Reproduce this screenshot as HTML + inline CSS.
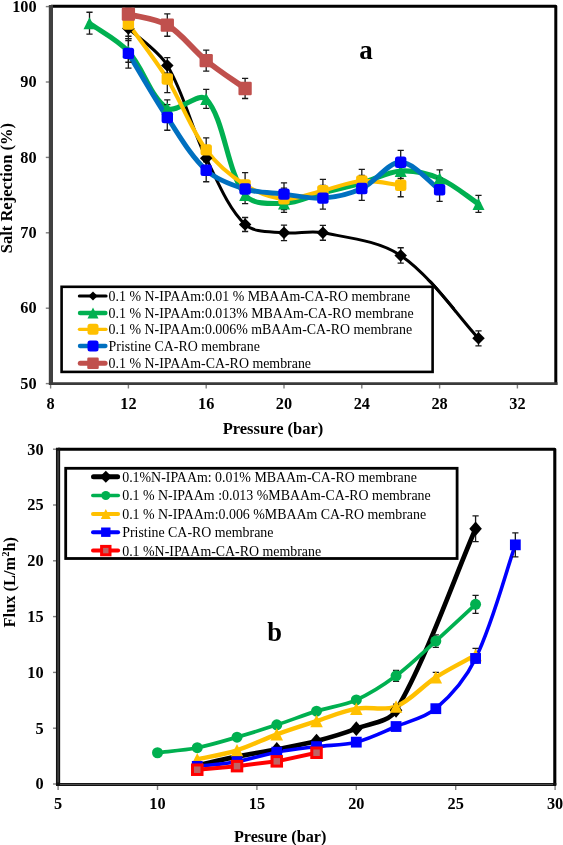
<!DOCTYPE html>
<html><head><meta charset="utf-8"><title>Salt rejection and flux</title>
<style>
html,body{margin:0;padding:0;background:#fff;}
body{width:563px;height:845px;overflow:hidden;font-family:"Liberation Serif",serif;}
svg{display:block;will-change:transform;}
</style></head><body>
<svg width="563" height="845" viewBox="0 0 563 845">
<rect width="563" height="845" fill="#ffffff"/>
<g fill="none" stroke-linecap="butt">
<path d="M45.8 383.6 H49.5" stroke="#7f7f7f" stroke-width="1.4"/>
<path d="M45.8 308.2 H49.5" stroke="#7f7f7f" stroke-width="1.4"/>
<path d="M45.8 232.8 H49.5" stroke="#7f7f7f" stroke-width="1.4"/>
<path d="M45.8 157.4 H49.5" stroke="#7f7f7f" stroke-width="1.4"/>
<path d="M45.8 82 H49.5" stroke="#7f7f7f" stroke-width="1.4"/>
<path d="M45.8 6.6 H49.5" stroke="#7f7f7f" stroke-width="1.4"/>
<path d="M50.6 385 V388.5" stroke="#7f7f7f" stroke-width="1.4"/>
<path d="M128.4 385 V388.5" stroke="#7f7f7f" stroke-width="1.4"/>
<path d="M206.2 385 V388.5" stroke="#7f7f7f" stroke-width="1.4"/>
<path d="M284 385 V388.5" stroke="#7f7f7f" stroke-width="1.4"/>
<path d="M361.8 385 V388.5" stroke="#7f7f7f" stroke-width="1.4"/>
<path d="M439.6 385 V388.5" stroke="#7f7f7f" stroke-width="1.4"/>
<path d="M517.4 385 V388.5" stroke="#7f7f7f" stroke-width="1.4"/>
<path d="M51 6.3 H555.8 V384.8" stroke="#000" stroke-width="3" stroke-linejoin="round"/>
<path d="M50.9 5.1 V385.1" stroke="#404040" stroke-width="4.2"/>
<path d="M49 383.6 H557.5" stroke="#3a3a3a" stroke-width="2.8"/>
</g>
<g font-family="Liberation Serif" font-weight="bold" font-size="16.3" fill="#000">
<text x="36.6" y="388.8" text-anchor="end">50</text>
<text x="36.6" y="313.4" text-anchor="end">60</text>
<text x="36.6" y="238" text-anchor="end">70</text>
<text x="36.6" y="162.6" text-anchor="end">80</text>
<text x="36.6" y="87.2" text-anchor="end">90</text>
<text x="36.6" y="11.8" text-anchor="end">100</text>
<text x="50.6" y="408.8" text-anchor="middle">8</text>
<text x="128.4" y="408.8" text-anchor="middle">12</text>
<text x="206.2" y="408.8" text-anchor="middle">16</text>
<text x="284" y="408.8" text-anchor="middle">20</text>
<text x="361.8" y="408.8" text-anchor="middle">24</text>
<text x="439.6" y="408.8" text-anchor="middle">28</text>
<text x="517.4" y="408.8" text-anchor="middle">32</text>
</g>
<text x="222.7" y="434.1" font-family="Liberation Serif" font-weight="bold" font-size="16.5">Pressure (bar)</text>
<text transform="translate(11.6 253.2) rotate(-90)" font-family="Liberation Serif" font-weight="bold" font-size="16.5">Salt Rejection (%)</text>
<text x="359.3" y="59.3" font-family="Liberation Serif" font-weight="bold" font-size="27">a</text>
<path d="M128.4 28.47 C138.12 37.7 158.28 50.37 167.3 65.41 C184.21 93.6 191.51 128.1 206.2 158.15 C217.44 181.14 228.01 208.11 245.1 224.51 C253.94 232.99 270.89 231.4 284 232.8 C296.82 234.17 310.28 230.35 322.9 232.8 C349.18 237.89 379.12 240.78 400.7 255.42 C430.99 275.97 459.05 317.62 478.5 338.36" fill="none" stroke="#000000" stroke-width="3" stroke-linejoin="round" stroke-linecap="round"/>
<path d="M89.5 23.19 C99.22 30.26 117.74 39.79 128.4 51.46 C143.68 68.19 150.89 98.39 167.3 108.39 C176.83 114.2 198.98 90.84 206.2 98.89 C224.91 119.75 226.35 169.92 245.1 195.1 C252.29 204.75 271.12 203.77 284 203.39 C297.05 203.01 309.9 196.24 322.9 192.84 C335.84 189.45 348.93 186.65 361.8 183.04 C374.86 179.36 387.56 171.74 400.7 170.97 C413.49 170.23 427.66 173.46 439.6 178.51 C453.6 184.44 468.77 197.57 478.5 203.92" fill="none" stroke="#00B050" stroke-width="5.1" stroke-linejoin="round" stroke-linecap="round"/>
<path d="M128.4 23.94 C138.12 37.7 155.51 59.9 167.3 78.98 C181.44 101.87 190.46 128.43 206.2 149.86 C216.39 163.74 230.6 175.79 245.1 184.92 C256.54 192.13 270.78 197.9 284 198.87 C296.72 199.81 309.99 193.62 322.9 190.65 C335.92 187.66 348.68 181.9 361.8 181 C374.61 180.12 390.98 184.22 400.7 185.3" fill="none" stroke="#FFC000" stroke-width="4.1" stroke-linejoin="round" stroke-linecap="round"/>
<path d="M128.4 53.35 C138.12 69.37 153.47 96.66 167.3 117.44 C179.4 135.61 190.57 155.83 206.2 170.22 C216.5 179.7 231.5 184.89 245.1 189.07 C257.44 192.86 271.01 192.61 284 194.12 C296.95 195.63 310.09 199.05 322.9 198.12 C336.03 197.16 349.85 193.97 361.8 188.46 C375.78 182.03 387.84 162.08 400.7 162.3 C413.77 162.53 429.88 182.94 439.6 189.82" fill="none" stroke="#0070C0" stroke-width="5" stroke-linejoin="round" stroke-linecap="round"/>
<path d="M128.4 14.14 C138.12 16.87 156.04 18.35 167.3 25.07 C181.98 33.83 192.61 49.51 206.2 60.59 C218.55 70.65 235.38 81.51 245.1 88.48" fill="none" stroke="#C0504D" stroke-width="5.7" stroke-linejoin="round" stroke-linecap="round"/>
<path d="M128.4 20.7 V36.23 M125.3 20.7 H131.5 M125.3 36.23 H131.5" stroke="#1a1a1a" stroke-width="1.3" fill="none"/>
<path d="M167.3 57.72 V73.1 M164.2 57.72 H170.4 M164.2 73.1 H170.4" stroke="#1a1a1a" stroke-width="1.3" fill="none"/>
<path d="M206.2 150.61 V165.69 M203.1 150.61 H209.3 M203.1 165.69 H209.3" stroke="#1a1a1a" stroke-width="1.3" fill="none"/>
<path d="M245.1 217.49 V231.52 M242 217.49 H248.2 M242 231.52 H248.2" stroke="#1a1a1a" stroke-width="1.3" fill="none"/>
<path d="M284 225.03 V240.57 M280.9 225.03 H287.1 M280.9 240.57 H287.1" stroke="#1a1a1a" stroke-width="1.3" fill="none"/>
<path d="M322.9 225.34 V240.26 M319.8 225.34 H326 M319.8 240.26 H326" stroke="#1a1a1a" stroke-width="1.3" fill="none"/>
<path d="M400.7 247.73 V263.11 M397.6 247.73 H403.8 M397.6 263.11 H403.8" stroke="#1a1a1a" stroke-width="1.3" fill="none"/>
<path d="M478.5 330.82 V345.9 M475.4 330.82 H481.6 M475.4 345.9 H481.6" stroke="#1a1a1a" stroke-width="1.3" fill="none"/>
<path d="M89.5 12.25 V34.12 M86.4 12.25 H92.6 M86.4 34.12 H92.6" stroke="#1a1a1a" stroke-width="1.3" fill="none"/>
<path d="M128.4 40.68 V62.25 M125.3 40.68 H131.5 M125.3 62.25 H131.5" stroke="#1a1a1a" stroke-width="1.3" fill="none"/>
<path d="M167.3 99.87 V116.91 M164.2 99.87 H170.4 M164.2 116.91 H170.4" stroke="#1a1a1a" stroke-width="1.3" fill="none"/>
<path d="M206.2 89.46 V108.31 M203.1 89.46 H209.3 M203.1 108.31 H209.3" stroke="#1a1a1a" stroke-width="1.3" fill="none"/>
<path d="M245.1 186.5 V203.7 M242 186.5 H248.2 M242 203.7 H248.2" stroke="#1a1a1a" stroke-width="1.3" fill="none"/>
<path d="M284 194.35 V212.44 M280.9 194.35 H287.1 M280.9 212.44 H287.1" stroke="#1a1a1a" stroke-width="1.3" fill="none"/>
<path d="M322.9 185.3 V200.38 M319.8 185.3 H326 M319.8 200.38 H326" stroke="#1a1a1a" stroke-width="1.3" fill="none"/>
<path d="M361.8 175.5 V190.58 M358.7 175.5 H364.9 M358.7 190.58 H364.9" stroke="#1a1a1a" stroke-width="1.3" fill="none"/>
<path d="M400.7 163.43 V178.51 M397.6 163.43 H403.8 M397.6 178.51 H403.8" stroke="#1a1a1a" stroke-width="1.3" fill="none"/>
<path d="M439.6 169.84 V187.18 M436.5 169.84 H442.7 M436.5 187.18 H442.7" stroke="#1a1a1a" stroke-width="1.3" fill="none"/>
<path d="M478.5 195.4 V212.44 M475.4 195.4 H481.6 M475.4 212.44 H481.6" stroke="#1a1a1a" stroke-width="1.3" fill="none"/>
<path d="M128.4 9.16 V38.72 M125.3 9.16 H131.5 M125.3 38.72 H131.5" stroke="#1a1a1a" stroke-width="1.3" fill="none"/>
<path d="M167.3 65.41 V92.56 M164.2 65.41 H170.4 M164.2 92.56 H170.4" stroke="#1a1a1a" stroke-width="1.3" fill="none"/>
<path d="M206.2 137.95 V161.77 M203.1 137.95 H209.3 M203.1 161.77 H209.3" stroke="#1a1a1a" stroke-width="1.3" fill="none"/>
<path d="M245.1 172.63 V197.21 M242 172.63 H248.2 M242 197.21 H248.2" stroke="#1a1a1a" stroke-width="1.3" fill="none"/>
<path d="M284 188.09 V209.65 M280.9 188.09 H287.1 M280.9 209.65 H287.1" stroke="#1a1a1a" stroke-width="1.3" fill="none"/>
<path d="M322.9 179.42 V201.89 M319.8 179.42 H326 M319.8 201.89 H326" stroke="#1a1a1a" stroke-width="1.3" fill="none"/>
<path d="M361.8 169.31 V192.69 M358.7 169.31 H364.9 M358.7 192.69 H364.9" stroke="#1a1a1a" stroke-width="1.3" fill="none"/>
<path d="M400.7 173.84 V196.76 M397.6 173.84 H403.8 M397.6 196.76 H403.8" stroke="#1a1a1a" stroke-width="1.3" fill="none"/>
<path d="M128.4 38.65 V68.05 M125.3 38.65 H131.5 M125.3 68.05 H131.5" stroke="#1a1a1a" stroke-width="1.3" fill="none"/>
<path d="M167.3 104.62 V130.26 M164.2 104.62 H170.4 M164.2 130.26 H170.4" stroke="#1a1a1a" stroke-width="1.3" fill="none"/>
<path d="M206.2 158.68 V181.75 M203.1 158.68 H209.3 M203.1 181.75 H209.3" stroke="#1a1a1a" stroke-width="1.3" fill="none"/>
<path d="M245.1 181.53 V196.61 M242 181.53 H248.2 M242 196.61 H248.2" stroke="#1a1a1a" stroke-width="1.3" fill="none"/>
<path d="M284 182.81 V205.43 M280.9 182.81 H287.1 M280.9 205.43 H287.1" stroke="#1a1a1a" stroke-width="1.3" fill="none"/>
<path d="M322.9 187.11 V209.12 M319.8 187.11 H326 M319.8 209.12 H326" stroke="#1a1a1a" stroke-width="1.3" fill="none"/>
<path d="M361.8 176.55 V200.38 M358.7 176.55 H364.9 M358.7 200.38 H364.9" stroke="#1a1a1a" stroke-width="1.3" fill="none"/>
<path d="M400.7 150.46 V174.14 M397.6 150.46 H403.8 M397.6 174.14 H403.8" stroke="#1a1a1a" stroke-width="1.3" fill="none"/>
<path d="M439.6 178.21 V201.43 M436.5 178.21 H442.7 M436.5 201.43 H442.7" stroke="#1a1a1a" stroke-width="1.3" fill="none"/>
<path d="M128.4 7.73 V20.55 M125.3 7.73 H131.5 M125.3 20.55 H131.5" stroke="#1a1a1a" stroke-width="1.3" fill="none"/>
<path d="M167.3 13.91 V36.23 M164.2 13.91 H170.4 M164.2 36.23 H170.4" stroke="#1a1a1a" stroke-width="1.3" fill="none"/>
<path d="M206.2 50.11 V71.07 M203.1 50.11 H209.3 M203.1 71.07 H209.3" stroke="#1a1a1a" stroke-width="1.3" fill="none"/>
<path d="M245.1 78.46 V98.51 M242 78.46 H248.2 M242 98.51 H248.2" stroke="#1a1a1a" stroke-width="1.3" fill="none"/>
<path d="M128.4 22.22 L134.65 28.47 L128.4 34.72 L122.15 28.47 Z" fill="#000000" stroke-linejoin="round"/>
<path d="M167.3 59.16 L173.55 65.41 L167.3 71.66 L161.05 65.41 Z" fill="#000000" stroke-linejoin="round"/>
<path d="M206.2 151.9 L212.45 158.15 L206.2 164.4 L199.95 158.15 Z" fill="#000000" stroke-linejoin="round"/>
<path d="M245.1 218.26 L251.35 224.51 L245.1 230.76 L238.85 224.51 Z" fill="#000000" stroke-linejoin="round"/>
<path d="M284 226.55 L290.25 232.8 L284 239.05 L277.75 232.8 Z" fill="#000000" stroke-linejoin="round"/>
<path d="M322.9 226.55 L329.15 232.8 L322.9 239.05 L316.65 232.8 Z" fill="#000000" stroke-linejoin="round"/>
<path d="M400.7 249.17 L406.95 255.42 L400.7 261.67 L394.45 255.42 Z" fill="#000000" stroke-linejoin="round"/>
<path d="M478.5 332.11 L484.75 338.36 L478.5 344.61 L472.25 338.36 Z" fill="#000000" stroke-linejoin="round"/>
<path d="M89.5 17.19 L95.5 29.19 L83.5 29.19 Z" fill="#00B050" stroke-linejoin="round"/>
<path d="M128.4 45.46 L134.4 57.46 L122.4 57.46 Z" fill="#00B050" stroke-linejoin="round"/>
<path d="M167.3 102.39 L173.3 114.39 L161.3 114.39 Z" fill="#00B050" stroke-linejoin="round"/>
<path d="M206.2 92.89 L212.2 104.89 L200.2 104.89 Z" fill="#00B050" stroke-linejoin="round"/>
<path d="M245.1 189.1 L251.1 201.1 L239.1 201.1 Z" fill="#00B050" stroke-linejoin="round"/>
<path d="M284 197.39 L290 209.39 L278 209.39 Z" fill="#00B050" stroke-linejoin="round"/>
<path d="M322.9 186.84 L328.9 198.84 L316.9 198.84 Z" fill="#00B050" stroke-linejoin="round"/>
<path d="M361.8 177.04 L367.8 189.04 L355.8 189.04 Z" fill="#00B050" stroke-linejoin="round"/>
<path d="M400.7 164.97 L406.7 176.97 L394.7 176.97 Z" fill="#00B050" stroke-linejoin="round"/>
<path d="M439.6 172.51 L445.6 184.51 L433.6 184.51 Z" fill="#00B050" stroke-linejoin="round"/>
<path d="M478.5 197.92 L484.5 209.92 L472.5 209.92 Z" fill="#00B050" stroke-linejoin="round"/>
<rect x="122.7" y="18.24" width="11.4" height="11.4" rx="2.5" fill="#FFC000"/>
<rect x="161.6" y="73.28" width="11.4" height="11.4" rx="2.5" fill="#FFC000"/>
<rect x="200.5" y="144.16" width="11.4" height="11.4" rx="2.5" fill="#FFC000"/>
<rect x="239.4" y="179.22" width="11.4" height="11.4" rx="2.5" fill="#FFC000"/>
<rect x="278.3" y="193.17" width="11.4" height="11.4" rx="2.5" fill="#FFC000"/>
<rect x="317.2" y="184.95" width="11.4" height="11.4" rx="2.5" fill="#FFC000"/>
<rect x="356.1" y="175.3" width="11.4" height="11.4" rx="2.5" fill="#FFC000"/>
<rect x="395" y="179.6" width="11.4" height="11.4" rx="2.5" fill="#FFC000"/>
<rect x="122.7" y="47.65" width="11.4" height="11.4" rx="2.5" fill="#0000FF"/>
<rect x="161.6" y="111.74" width="11.4" height="11.4" rx="2.5" fill="#0000FF"/>
<rect x="200.5" y="164.52" width="11.4" height="11.4" rx="2.5" fill="#0000FF"/>
<rect x="239.4" y="183.37" width="11.4" height="11.4" rx="2.5" fill="#0000FF"/>
<rect x="278.3" y="188.42" width="11.4" height="11.4" rx="2.5" fill="#0000FF"/>
<rect x="317.2" y="192.42" width="11.4" height="11.4" rx="2.5" fill="#0000FF"/>
<rect x="356.1" y="182.76" width="11.4" height="11.4" rx="2.5" fill="#0000FF"/>
<rect x="395" y="156.6" width="11.4" height="11.4" rx="2.5" fill="#0000FF"/>
<rect x="433.9" y="184.12" width="11.4" height="11.4" rx="2.5" fill="#0000FF"/>
<rect x="121.75" y="7.49" width="13.3" height="13.3" rx="1.2" fill="#C0504D"/>
<rect x="160.65" y="18.42" width="13.3" height="13.3" rx="1.2" fill="#C0504D"/>
<rect x="199.55" y="53.94" width="13.3" height="13.3" rx="1.2" fill="#C0504D"/>
<rect x="238.45" y="81.83" width="13.3" height="13.3" rx="1.2" fill="#C0504D"/>
<rect x="61.6" y="286.8" width="371" height="85.1" fill="#fff" stroke="#000" stroke-width="2.6"/>
<path d="M79.3 296 H106.1" stroke="#000000" stroke-width="3" stroke-linecap="round"/>
<path d="M93 291.4 L97.6 296 L93 300.6 L88.4 296 Z" fill="#000000" stroke-linejoin="round"/>
<text x="108.6" y="300.9" font-family="Liberation Serif" font-size="13.9">0.1 % N-IPAAm:0.01 % MBAAm-CA-RO membrane</text>
<path d="M80.05 312.9 H105.35" stroke="#00B050" stroke-width="4.5" stroke-linecap="round"/>
<path d="M93 307.4 L98.5 318.4 L87.5 318.4 Z" fill="#00B050" stroke-linejoin="round"/>
<text x="108.6" y="317.8" font-family="Liberation Serif" font-size="13.9">0.1 % N-IPAAm:0.013% MBAAm-CA-RO membrane</text>
<path d="M79.4 329.3 H106" stroke="#FFC000" stroke-width="3.2" stroke-linecap="round"/>
<rect x="87.5" y="323.8" width="11" height="11" rx="2.5" fill="#FFC000"/>
<text x="108.6" y="334.2" font-family="Liberation Serif" font-size="13.9">0.1 % N-IPAAm:0.006% mBAAm-CA-RO membrane</text>
<path d="M79.95 346 H105.45" stroke="#0070C0" stroke-width="4.3" stroke-linecap="round"/>
<rect x="87.5" y="340.5" width="11" height="11" rx="2.5" fill="#0000FF"/>
<text x="108.6" y="350.9" font-family="Liberation Serif" font-size="13.9">Pristine CA-RO membrane</text>
<path d="M80.3 363.3 H105.1" stroke="#C0504D" stroke-width="5" stroke-linecap="round"/>
<rect x="87.25" y="357.55" width="11.5" height="11.5" rx="1.2" fill="#C0504D"/>
<text x="108.6" y="368.2" font-family="Liberation Serif" font-size="13.9">0.1 % N-IPAAm-CA-RO membrane</text>
<clipPath id="cl"><rect x="415" y="280" width="40" height="40"/></clipPath>
<path d="M128.4 28.47 C138.12 37.7 158.28 50.37 167.3 65.41 C184.21 93.6 191.51 128.1 206.2 158.15 C217.44 181.14 228.01 208.11 245.1 224.51 C253.94 232.99 270.89 231.4 284 232.8 C296.82 234.17 310.28 230.35 322.9 232.8 C349.18 237.89 379.12 240.78 400.7 255.42 C430.99 275.97 459.05 317.62 478.5 338.36" clip-path="url(#cl)" fill="none" stroke="#000" stroke-width="3"/>
<path d="M53 784 H56.5" stroke="#7f7f7f" stroke-width="1.4"/>
<path d="M53 728.2 H56.5" stroke="#7f7f7f" stroke-width="1.4"/>
<path d="M53 672.4 H56.5" stroke="#7f7f7f" stroke-width="1.4"/>
<path d="M53 616.6 H56.5" stroke="#7f7f7f" stroke-width="1.4"/>
<path d="M53 560.8 H56.5" stroke="#7f7f7f" stroke-width="1.4"/>
<path d="M53 505 H56.5" stroke="#7f7f7f" stroke-width="1.4"/>
<path d="M53 449.2 H56.5" stroke="#7f7f7f" stroke-width="1.4"/>
<path d="M58.1 785.5 V790" stroke="#7f7f7f" stroke-width="1.4"/>
<path d="M157.5 785.5 V790" stroke="#7f7f7f" stroke-width="1.4"/>
<path d="M256.9 785.5 V790" stroke="#7f7f7f" stroke-width="1.4"/>
<path d="M356.3 785.5 V790" stroke="#7f7f7f" stroke-width="1.4"/>
<path d="M455.7 785.5 V790" stroke="#7f7f7f" stroke-width="1.4"/>
<path d="M555.1 785.5 V790" stroke="#7f7f7f" stroke-width="1.4"/>
<path d="M58 449.2 H554.8 V785" fill="none" stroke="#000" stroke-width="3.1" stroke-linejoin="round"/>
<path d="M58.05 447.7 V785.5" stroke="#111" stroke-width="4.2"/>
<path d="M58.05 450.7 V782.5" stroke="#666" stroke-width="0.9"/>
<path d="M56 784.4 H556.3" stroke="#111" stroke-width="3"/>
<path d="M60 784.4 H553" stroke="#666" stroke-width="0.8"/>
<g font-family="Liberation Serif" font-weight="bold" font-size="16.3" fill="#000">
<text x="43.6" y="789.3" text-anchor="end">0</text>
<text x="43.6" y="733.5" text-anchor="end">5</text>
<text x="43.6" y="677.7" text-anchor="end">10</text>
<text x="43.6" y="621.9" text-anchor="end">15</text>
<text x="43.6" y="566.1" text-anchor="end">20</text>
<text x="43.6" y="510.3" text-anchor="end">25</text>
<text x="43.6" y="454.5" text-anchor="end">30</text>
<text x="58.1" y="809.4" text-anchor="middle">5</text>
<text x="157.5" y="809.4" text-anchor="middle">10</text>
<text x="256.9" y="809.4" text-anchor="middle">15</text>
<text x="356.3" y="809.4" text-anchor="middle">20</text>
<text x="455.7" y="809.4" text-anchor="middle">25</text>
<text x="555.1" y="809.4" text-anchor="middle">30</text>
</g>
<text x="233.9" y="841.6" font-family="Liberation Serif" font-weight="bold" font-size="16.2">Presure (bar)</text>
<text transform="translate(15.4 627.4) rotate(-90)" font-family="Liberation Serif" font-weight="bold" font-size="16.4">Flux (L/m<tspan font-size="10.5" dy="-6">2</tspan><tspan dy="6">h)</tspan></text>
<text x="267.2" y="640.9" font-family="Liberation Serif" font-weight="bold" font-size="26.5">b</text>
<rect x="65.7" y="468.3" width="391.4" height="90.2" fill="#fff" stroke="#000" stroke-width="2.8"/>
<path d="M93.5 476.8 H117.6" stroke="#000000" stroke-width="5" stroke-linecap="round"/>
<path d="M105.8 470.8 L111.8 476.8 L105.8 482.8 L99.8 476.8 Z" fill="#000000" stroke-linejoin="round"/>
<text x="122.2" y="481.7" font-family="Liberation Serif" font-size="13.9">0.1%N-IPAAm: 0.01% MBAAm-CA-RO membrane</text>
<path d="M92.8 495.5 H118.3" stroke="#00B050" stroke-width="3.6" stroke-linecap="round"/>
<circle cx="105.8" cy="495.5" r="4.5" fill="#00B050"/>
<text x="122.2" y="500.4" font-family="Liberation Serif" font-size="13.9">0.1 % N-IPAAm :0.013 %MBAAm-CA-RO membrane</text>
<path d="M93 514 H118.1" stroke="#FFC000" stroke-width="4" stroke-linecap="round"/>
<path d="M105.8 509 L110.8 519 L100.8 519 Z" fill="#FFC000" stroke-linejoin="round"/>
<text x="122.2" y="518.9" font-family="Liberation Serif" font-size="13.9">0.1 % N-IPAAm:0.006 %MBAAm CA-RO membrane</text>
<path d="M93 532.2 H118.1" stroke="#0000FF" stroke-width="4" stroke-linecap="round"/>
<rect x="101.1" y="527.5" width="9.4" height="9.4" rx="0" fill="#0000FF"/>
<text x="122.2" y="537.1" font-family="Liberation Serif" font-size="13.9">Pristine CA-RO membrane</text>
<path d="M93 550.6 H118.1" stroke="#FF0000" stroke-width="4" stroke-linecap="round"/>
<rect x="101.6" y="546.4" width="8.4" height="8.4" rx="0" fill="#BF6464" stroke="#FF0000" stroke-width="3"/>
<text x="122.2" y="555.5" font-family="Liberation Serif" font-size="13.9">0.1 %N-IPAAm-CA-RO membrane</text>
<path d="M197.26 765.25 C207.2 763.1 223.72 759.31 237.02 756.66 C250.23 754.03 263.56 752 276.78 749.4 C290.07 746.79 303.45 744.45 316.54 741.03 C329.96 737.53 343.38 733.63 356.3 728.65 C369.88 723.4 388.87 722.39 396.06 710.34 C425.88 660.38 455.7 574.16 475.58 528.77" fill="none" stroke="#000000" stroke-width="4.7" stroke-linejoin="round" stroke-linecap="round"/>
<path d="M157.5 752.75 C167.44 751.5 184.18 750.3 197.26 747.73 C210.69 745.09 223.84 740.92 237.02 737.13 C250.35 733.29 263.6 729.16 276.78 724.85 C290.1 720.49 303.16 715.31 316.54 711.13 C329.67 707.02 343.83 705.49 356.3 699.97 C370.34 693.74 383.65 685.05 396.06 675.86 C410.16 665.41 422.72 652.82 435.82 641.04 C449.23 628.98 465.64 613.5 475.58 604.32" fill="none" stroke="#00B050" stroke-width="3.7" stroke-linejoin="round" stroke-linecap="round"/>
<path d="M197.26 759.22 C207.2 756.99 224.1 754.34 237.02 750.3 C250.61 746.05 263.38 739.26 276.78 734.34 C289.89 729.52 303.24 725.35 316.54 721.06 C329.75 716.79 342.75 711.16 356.3 708.67 C369.26 706.29 384.21 711.11 396.06 706.44 C410.72 700.66 422.04 686.2 435.82 677.31 C448.55 669.09 465.64 660.65 475.58 655.1" fill="none" stroke="#FFC000" stroke-width="4.4" stroke-linejoin="round" stroke-linecap="round"/>
<path d="M197.26 766.37 C207.2 765.2 223.9 764.02 237.02 761.68 C250.41 759.29 263.41 754.73 276.78 752.19 C289.91 749.71 303.26 748.29 316.54 746.61 C329.77 744.94 343.48 745.39 356.3 742.15 C369.99 738.69 382.94 732.05 396.06 726.53 C409.45 720.89 425.09 717.86 435.82 708.67 C451.59 695.17 466.37 677.42 475.58 658.45 C492.88 622.81 505.4 573.24 515.34 544.84" fill="none" stroke="#0000FF" stroke-width="3.6" stroke-linejoin="round" stroke-linecap="round"/>
<path d="M197.26 769.72 L237.02 766.14 L276.78 761.35 L316.54 752.75" fill="none" stroke="#FF0000" stroke-width="4" stroke-linejoin="round" stroke-linecap="round"/>
<path d="M475.58 515.94 V541.6 M472.48 515.94 H478.68 M472.48 541.6 H478.68" stroke="#1a1a1a" stroke-width="1.3" fill="none"/>
<path d="M396.06 670.28 V681.44 M392.96 670.28 H399.16 M392.96 681.44 H399.16" stroke="#1a1a1a" stroke-width="1.3" fill="none"/>
<path d="M435.82 634.79 V647.29 M432.72 634.79 H438.92 M432.72 647.29 H438.92" stroke="#1a1a1a" stroke-width="1.3" fill="none"/>
<path d="M475.58 595.28 V613.36 M472.48 595.28 H478.68 M472.48 613.36 H478.68" stroke="#1a1a1a" stroke-width="1.3" fill="none"/>
<path d="M396.06 704.21 V708.67 M392.96 704.21 H399.16 M392.96 708.67 H399.16" stroke="#1a1a1a" stroke-width="1.3" fill="none"/>
<path d="M435.82 672.4 V682.22 M432.72 672.4 H438.92 M432.72 682.22 H438.92" stroke="#1a1a1a" stroke-width="1.3" fill="none"/>
<path d="M475.58 648.41 V661.8 M472.48 648.41 H478.68 M472.48 661.8 H478.68" stroke="#1a1a1a" stroke-width="1.3" fill="none"/>
<path d="M475.58 653.99 V662.91 M472.48 653.99 H478.68 M472.48 662.91 H478.68" stroke="#1a1a1a" stroke-width="1.3" fill="none"/>
<path d="M515.34 532.79 V556.89 M512.24 532.79 H518.44 M512.24 556.89 H518.44" stroke="#1a1a1a" stroke-width="1.3" fill="none"/>
<path d="M197.26 757.95 L203.54 765.25 L197.26 772.55 L190.98 765.25 Z" fill="#000000" stroke-linejoin="round"/>
<path d="M237.02 749.36 L243.3 756.66 L237.02 763.96 L230.74 756.66 Z" fill="#000000" stroke-linejoin="round"/>
<path d="M276.78 742.1 L283.06 749.4 L276.78 756.7 L270.5 749.4 Z" fill="#000000" stroke-linejoin="round"/>
<path d="M316.54 733.73 L322.82 741.03 L316.54 748.33 L310.26 741.03 Z" fill="#000000" stroke-linejoin="round"/>
<path d="M356.3 721.35 L362.58 728.65 L356.3 735.95 L350.02 728.65 Z" fill="#000000" stroke-linejoin="round"/>
<path d="M396.06 703.04 L402.34 710.34 L396.06 717.64 L389.78 710.34 Z" fill="#000000" stroke-linejoin="round"/>
<path d="M475.58 521.47 L481.86 528.77 L475.58 536.07 L469.3 528.77 Z" fill="#000000" stroke-linejoin="round"/>
<circle cx="157.5" cy="752.75" r="5.5" fill="#00B050"/>
<circle cx="197.26" cy="747.73" r="5.5" fill="#00B050"/>
<circle cx="237.02" cy="737.13" r="5.5" fill="#00B050"/>
<circle cx="276.78" cy="724.85" r="5.5" fill="#00B050"/>
<circle cx="316.54" cy="711.13" r="5.5" fill="#00B050"/>
<circle cx="356.3" cy="699.97" r="5.5" fill="#00B050"/>
<circle cx="396.06" cy="675.86" r="5.5" fill="#00B050"/>
<circle cx="435.82" cy="641.04" r="5.5" fill="#00B050"/>
<circle cx="475.58" cy="604.32" r="5.5" fill="#00B050"/>
<path d="M197.26 752.97 L203.51 765.47 L191.01 765.47 Z" fill="#FFC000" stroke-linejoin="round"/>
<path d="M237.02 744.05 L243.27 756.55 L230.77 756.55 Z" fill="#FFC000" stroke-linejoin="round"/>
<path d="M276.78 728.09 L283.03 740.59 L270.53 740.59 Z" fill="#FFC000" stroke-linejoin="round"/>
<path d="M316.54 714.81 L322.79 727.31 L310.29 727.31 Z" fill="#FFC000" stroke-linejoin="round"/>
<path d="M356.3 702.42 L362.55 714.92 L350.05 714.92 Z" fill="#FFC000" stroke-linejoin="round"/>
<path d="M396.06 700.19 L402.31 712.69 L389.81 712.69 Z" fill="#FFC000" stroke-linejoin="round"/>
<path d="M435.82 671.06 L442.07 683.56 L429.57 683.56 Z" fill="#FFC000" stroke-linejoin="round"/>
<path d="M475.58 648.85 L481.83 661.35 L469.33 661.35 Z" fill="#FFC000" stroke-linejoin="round"/>
<rect x="191.86" y="760.97" width="10.8" height="10.8" rx="0" fill="#0000FF"/>
<rect x="231.62" y="756.28" width="10.8" height="10.8" rx="0" fill="#0000FF"/>
<rect x="271.38" y="746.79" width="10.8" height="10.8" rx="0" fill="#0000FF"/>
<rect x="311.14" y="741.21" width="10.8" height="10.8" rx="0" fill="#0000FF"/>
<rect x="350.9" y="736.75" width="10.8" height="10.8" rx="0" fill="#0000FF"/>
<rect x="390.66" y="721.13" width="10.8" height="10.8" rx="0" fill="#0000FF"/>
<rect x="430.42" y="703.27" width="10.8" height="10.8" rx="0" fill="#0000FF"/>
<rect x="470.18" y="653.05" width="10.8" height="10.8" rx="0" fill="#0000FF"/>
<rect x="509.94" y="539.44" width="10.8" height="10.8" rx="0" fill="#0000FF"/>
<rect x="192.51" y="764.97" width="9.5" height="9.5" rx="0" fill="#BF6464" stroke="#FF0000" stroke-width="3"/>
<rect x="232.27" y="761.39" width="9.5" height="9.5" rx="0" fill="#BF6464" stroke="#FF0000" stroke-width="3"/>
<rect x="272.03" y="756.6" width="9.5" height="9.5" rx="0" fill="#BF6464" stroke="#FF0000" stroke-width="3"/>
<rect x="311.79" y="748" width="9.5" height="9.5" rx="0" fill="#BF6464" stroke="#FF0000" stroke-width="3"/>
</svg>
</body></html>
